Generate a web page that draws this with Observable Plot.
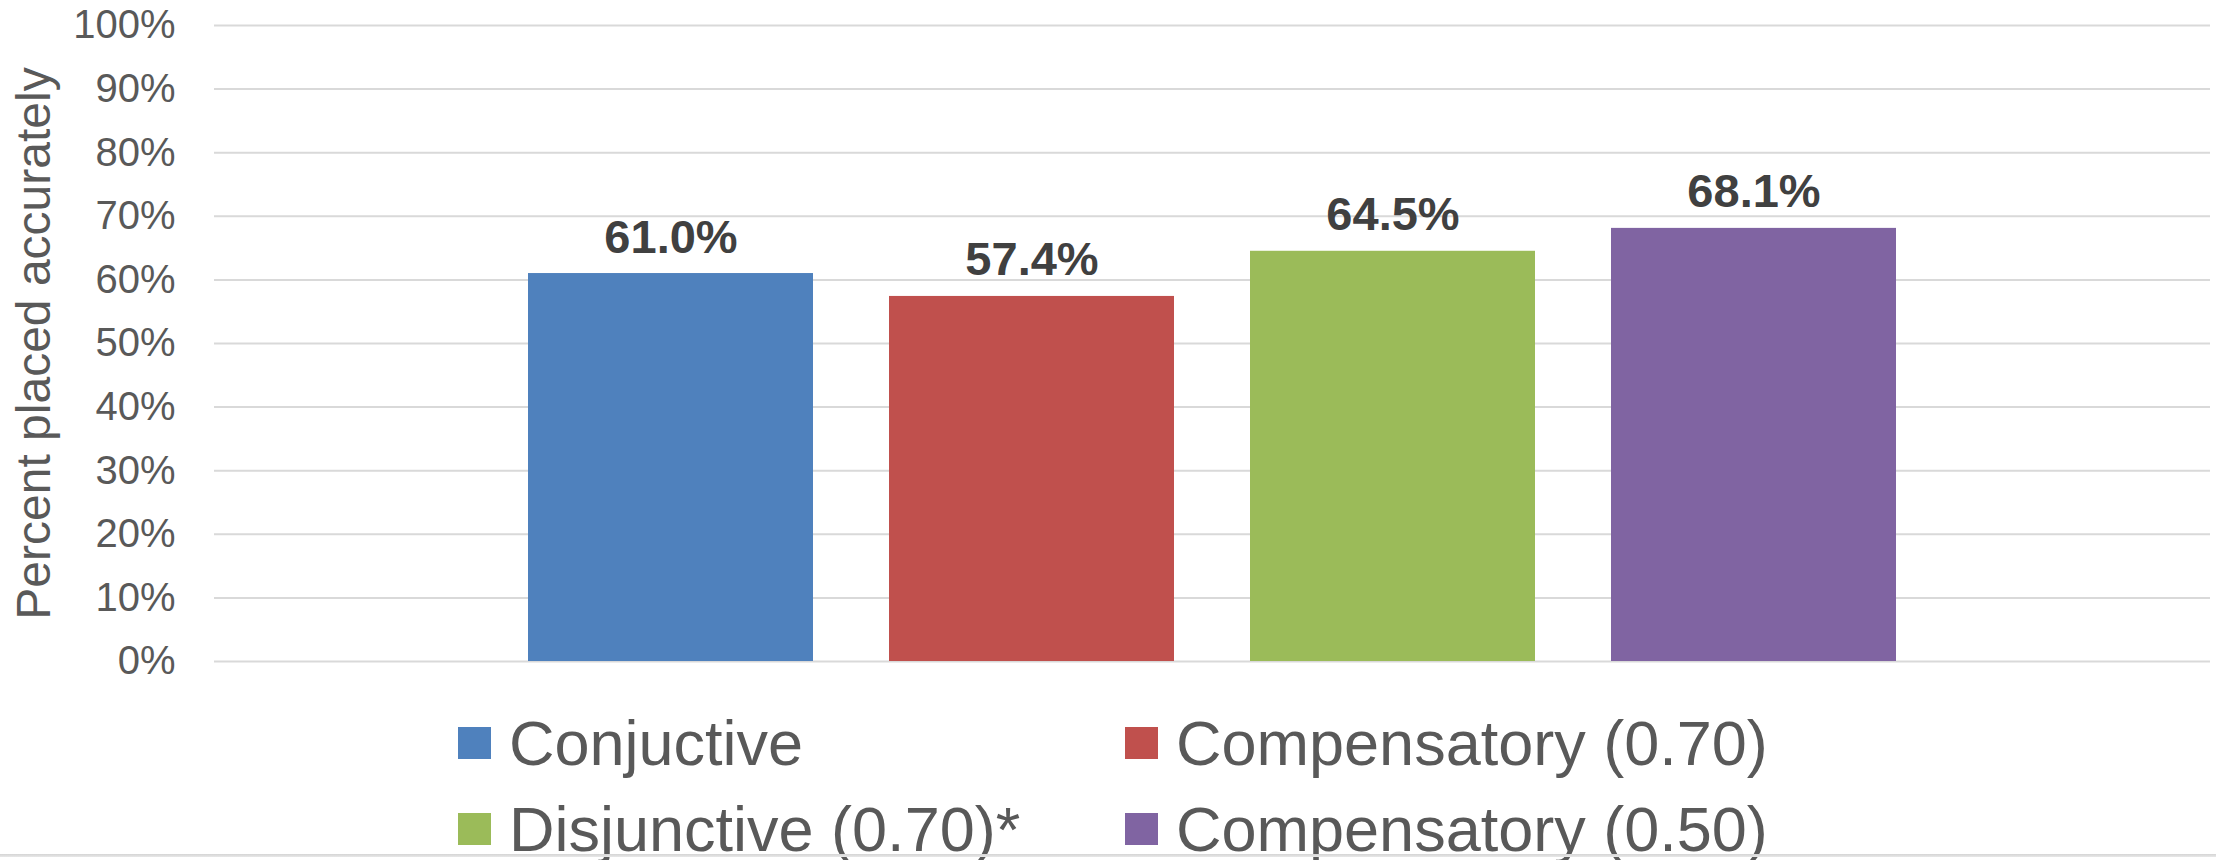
<!DOCTYPE html>
<html>
<head>
<meta charset="utf-8">
<script src="https://cdn.jsdelivr.net/npm/d3@7"></script>
<script src="https://cdn.jsdelivr.net/npm/@observablehq/plot@0.6"></script>
<style>
  html, body { margin: 0; padding: 0; background: #fff; overflow: hidden; }
  body { font-family: "Liberation Sans", Arial, sans-serif; width: 2216px; height: 860px; position: relative; }
  #legend {
    display: grid;
    grid-template-columns: 667px 667px;
    padding-left: 458px;
    font-size: 63px;
    line-height: 86px;
    color: #595959;
  }
  .item { display: flex; align-items: center; white-space: nowrap; }
  .sw { width: 33px; height: 32px; margin-right: 18px; flex: none; }
  #edge {
    position: absolute; left: 0; top: 854px; width: 2216px; height: 3px;
    background: linear-gradient(#d4d4d4, #e8e8e8);
  }
</style>
</head>
<body>
<div id="chart"></div>
<div id="legend"></div>
<div id="edge"></div>
<script>
// Placement accuracy by decision rule
const rules = ["Conjuctive", "Compensatory (0.70)", "Disjunctive (0.70)*", "Compensatory (0.50)"];
const accuracy = [0.610, 0.574, 0.645, 0.681];
const colors = ["#4F81BD", "#C0504D", "#9BBB59", "#8064A2"];
const yTicks = [0, 0.1, 0.2, 0.3, 0.4, 0.5, 0.6, 0.7, 0.8, 0.9, 1.0];

const data = rules.map((rule, i) => ({rule, value: accuracy[i]}));
const pct = d3.format(".0%");
const pct1 = d3.format(".1%");

const chart = Plot.plot({
  width: 2216,
  height: 700,
  marginTop: 25,
  marginBottom: 39,
  marginLeft: 214,
  marginRight: 6,
  style: {fontFamily: "'Liberation Sans', Arial, sans-serif", background: "#fff"},
  x: {domain: rules, padding: 0.21, insetLeft: 236, insetRight: 236, axis: null},
  y: {domain: [0, 1]},
  color: {domain: rules, range: colors},
  marks: [
    Plot.ruleY(yTicks, {stroke: "#d9d9d9", strokeWidth: 2}),
    Plot.barY(data, {x: "rule", y: "value", fill: "rule"}),
    Plot.text(data, {
      x: "rule", y: "value", text: d => pct1(d.value),
      lineAnchor: "bottom", dy: -21,
      fontSize: 47, fontWeight: "bold", fill: "#404040"
    }),
    Plot.axisY(yTicks, {
      tickSize: 0, tickPadding: 39, tickFormat: pct,
      fontSize: 40, color: "#595959",
      label: "Percent placed accurately", labelAnchor: "center", labelArrow: "none",
      labelOffset: 199
    })
  ]
});
chart.querySelectorAll("g[aria-label='y-axis label'] text").forEach(t => {
  t.setAttribute("font-size", 48);
  t.setAttribute("fill", "#595959");
});
document.getElementById("chart").appendChild(chart);

const legend = document.getElementById("legend");
rules.forEach((rule, i) => {
  const item = document.createElement("div");
  item.className = "item";
  const sw = document.createElement("span");
  sw.className = "sw";
  sw.style.background = colors[i];
  const label = document.createElement("span");
  label.textContent = rule;
  item.append(sw, label);
  legend.appendChild(item);
});
</script>
</body>
</html>
